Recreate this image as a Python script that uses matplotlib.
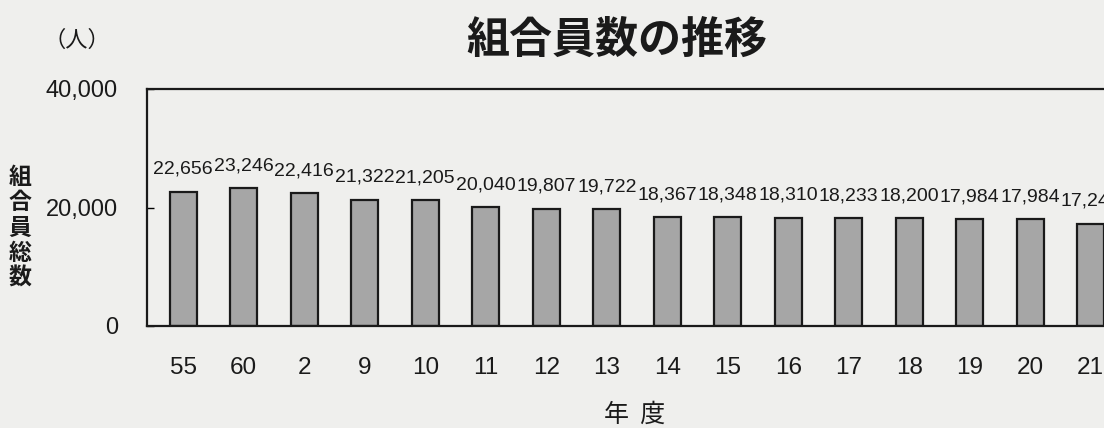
import matplotlib
matplotlib.use("Agg")
import matplotlib.pyplot as plt
from matplotlib.ticker import FuncFormatter

# 年度ごとの組合員総数
years = ["55", "60", "2", "9", "10", "11", "12", "13", "14", "15",
         "16", "17", "18", "19", "20", "21"]
members = [22656, 23246, 22416, 21322, 21205, 20040, 19807, 19722,
           18367, 18348, 18310, 18233, 18200, 17984, 17984, 17246]
yticks = [0, 20000, 40000]

num_font = "Liberation Sans"
jp_font = ["Noto Sans CJK JP", "DejaVu Sans"]

bg = "#efefed"
W, H = 1104, 428
fig = plt.figure(figsize=(W / 100, H / 100), dpi=100, facecolor=bg)

# plot area runs past the right edge like the cropped original
ax = fig.add_axes([147 / W, 102 / H, 980 / W, 237 / H], facecolor=bg)

x = list(range(len(years)))
bars = ax.bar(x, members, width=0.45, color="#a6a6a6",
              edgecolor="#1a1a1a", linewidth=1.6)

for b, v in zip(bars, members):
    ax.annotate(f"{v:,}", (b.get_x() + b.get_width() / 2, v),
                xytext=(0, 10), textcoords="offset points",
                ha="center", va="bottom", fontsize=14,
                family=num_font, color="#1a1a1a")

ax.set_xlim(-0.6, 15.6)
ax.set_ylim(0, 40000)
ax.set_xticks(x)
ax.set_xticklabels(years, family=num_font, fontsize=17.5, color="#1a1a1a")
ax.set_yticks(yticks)
ax.yaxis.set_major_formatter(FuncFormatter(lambda v, p: f"{int(v):,}"))
for lbl in ax.get_yticklabels():
    lbl.set_family(num_font)
    lbl.set_fontsize(17)
    lbl.set_color("#1a1a1a")
ax.tick_params(axis="x", length=0, pad=22)
ax.tick_params(axis="y", direction="in", length=5, width=1, pad=21)

for s in ["top", "left", "bottom", "right"]:
    ax.spines[s].set_linewidth(1.6)
    ax.spines[s].set_color("#1a1a1a")

fig.text(617 / W, 1 - 40 / H, "組合員数の推移", family=jp_font,
         fontsize=31, fontweight="bold", ha="center", va="center",
         color="#1a1a1a")
fig.text(77 / W, 1 - 40 / H, "（人）", family=jp_font, fontsize=16,
         ha="center", va="center", color="#1a1a1a")
fig.text(20 / W, 1 - 228 / H, "\n".join("組合員総数"), family=jp_font,
         fontsize=16.5, fontweight="bold", ha="center", va="center",
         linespacing=1.12, color="#1a1a1a")
fig.text(635 / W, 1 - 415 / H, "年  度", family=jp_font, fontsize=18,
         ha="center", va="center", color="#1a1a1a")

fig.savefig("out.png", dpi=100, facecolor=bg)
